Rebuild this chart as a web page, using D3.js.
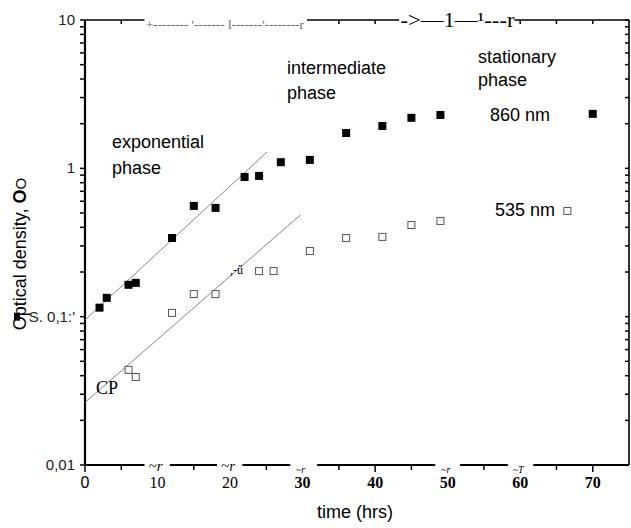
<!DOCTYPE html>
<html>
<head>
<meta charset="utf-8">
<script src="https://cdn.jsdelivr.net/npm/d3@7"></script>
<style>
  body { margin: 0; background: #fff; }
  text { font-family: "Liberation Sans", Arial, sans-serif; }
  .serif { font-family: "Liberation Serif", "Times New Roman", serif; }
</style>
</head>
<body>
<div id="graf"></div>
<script>
// 860 nm (puni kvadrati)
const t860 = [2, 3, 6, 7, 12, 15, 18, 22, 24, 27, 31, 36, 41, 45, 49, 70];
const od860 = [0.115, 0.134, 0.164, 0.169, 0.339, 0.558, 0.541, 0.875, 0.889, 1.10, 1.14, 1.73, 1.93, 2.19, 2.29, 2.33];

// 535 nm (prazni kvadrati)
const t535 = [6, 7, 12, 15, 18, 24, 26, 31, 36, 41, 45, 49, 66.5];
const od535 = [0.0438, 0.0392, 0.106, 0.142, 0.142, 0.203, 0.203, 0.277, 0.339, 0.345, 0.415, 0.442, 0.516];

// linije fita u eksponencijalnoj fazi
const fit860 = [[0, 0.095], [25.1, 1.29]];
const fit535 = [[0, 0.0264], [29.7, 0.485]];

const xTicks = [0, 10, 20, 30, 40, 50, 60, 70];
const yTicks = [0.01, 0.1, 1, 10];
const yTickLabels = ["0,01", "S. 0,1:'", "1", "10"];

const width = 631;
const height = 528;

const svg = d3.select("#graf").append("svg")
  .attr("width", width)
  .attr("height", height);

const x = d3.scaleLinear().domain([0, 75]).range([85, 629]);
const y = d3.scaleLog().domain([0.01, 10]).range([465, 20]);

const minorY = [];
[0.01, 0.1, 1].forEach(d => { for (let k = 2; k <= 9; k++) minorY.push(d * k); });
const minorX = d3.range(5, 75, 10);

// rupe u okviru (sken)
const bottomGaps = [[8.2, 11.7], [18.2, 21.7], [28.3, 32], [48.3, 51.7], [58.3, 61.8]];
const topGaps = [[8.2, 30.6], [43.3, 59.2]];

function segments(gaps) {
  const out = [];
  let start = 0;
  gaps.forEach(g => { out.push([start, g[0]]); start = g[1]; });
  out.push([start, 75]);
  return out;
}
const inGap = (t, gaps) => gaps.some(g => t > g[0] && t < g[1]);

// donja os
svg.selectAll("line.bottom")
  .data(segments(bottomGaps))
  .join("line").attr("class", "bottom")
  .attr("x1", d => x(d[0])).attr("x2", d => x(d[1]))
  .attr("y1", y(0.01)).attr("y2", y(0.01))
  .attr("stroke", "#000").attr("stroke-width", 2);

svg.selectAll("line.btick")
  .data(xTicks.concat(minorX).filter(t => !inGap(t, bottomGaps)))
  .join("line").attr("class", "btick")
  .attr("x1", d => x(d)).attr("x2", d => x(d))
  .attr("y1", y(0.01)).attr("y2", d => y(0.01) + (d % 10 === 0 ? 7 : 5))
  .attr("stroke", "#000").attr("stroke-width", 1.5);

// gornja os
svg.selectAll("line.top")
  .data(segments(topGaps))
  .join("line").attr("class", "top")
  .attr("x1", d => x(d[0])).attr("x2", d => x(d[1]))
  .attr("y1", y(10)).attr("y2", y(10))
  .attr("stroke", "#000").attr("stroke-width", 1.6);

svg.selectAll("line.ttick")
  .data(xTicks.concat(minorX).filter(t => t > 0 && !inGap(t, topGaps)))
  .join("line").attr("class", "ttick")
  .attr("x1", d => x(d)).attr("x2", d => x(d))
  .attr("y1", y(10)).attr("y2", y(10) + 4)
  .attr("stroke", "#000").attr("stroke-width", 1.5);

// lijeva i desna os
svg.append("line")
  .attr("x1", x(0)).attr("x2", x(0)).attr("y1", y(10)).attr("y2", y(0.01))
  .attr("stroke", "#000").attr("stroke-width", 2.2);
svg.append("line")
  .attr("x1", x(75)).attr("x2", x(75)).attr("y1", y(10)).attr("y2", y(0.01))
  .attr("stroke", "#000").attr("stroke-width", 1.6);

svg.selectAll("line.ltick")
  .data(yTicks.concat(minorY))
  .join("line").attr("class", "ltick")
  .attr("x1", x(0) - 5).attr("x2", x(0))
  .attr("y1", d => y(d)).attr("y2", d => y(d))
  .attr("stroke", "#000").attr("stroke-width", 1.5);

svg.selectAll("line.rtick")
  .data(yTicks.concat(minorY))
  .join("line").attr("class", "rtick")
  .attr("x1", x(75) - 4).attr("x2", x(75))
  .attr("y1", d => y(d)).attr("y2", d => y(d))
  .attr("stroke", "#000").attr("stroke-width", 1.5);

// oznake osi
svg.selectAll("text.xlab")
  .data(xTicks)
  .join("text").attr("class", d => d === 0 ? "xlab" : "xlab serif")
  .attr("x", d => x(d)).attr("y", 488)
  .attr("text-anchor", "middle")
  .style("font-size", "16px")
  .style("font-weight", d => d >= 30 ? "bold" : "normal")
  .text(d => d);

svg.selectAll("text.ylab")
  .data(yTicks)
  .join("text").attr("class", "ylab")
  .attr("x", 75).attr("y", d => y(d) + 5)
  .attr("text-anchor", "end")
  .style("font-size", "15px")
  .style("fill", "#222")
  .text((d, i) => yTickLabels[i]);

svg.append("rect")
  .attr("x", 14).attr("y", y(0.1) - 4).attr("width", 6).attr("height", 8)
  .attr("fill", "#000");

svg.append("text")
  .attr("x", 355).attr("y", 518)
  .attr("text-anchor", "middle")
  .style("font-size", "18px")
  .text("time (hrs)");

const yl = svg.append("text")
  .attr("transform", `translate(26, 254) rotate(-90)`)
  .attr("text-anchor", "middle")
  .style("font-size", "18px");
yl.append("tspan").text("Optical density, ");
yl.append("tspan").style("font-weight", "bold").text("O");
yl.append("tspan").style("font-size", "15px").text("O");

// smeće iz skena na osima
svg.append("text").attr("class", "serif")
  .attr("x", x(8.4)).attr("y", y(10) + 9)
  .attr("textLength", 158).attr("lengthAdjust", "spacingAndGlyphs")
  .style("font-size", "13px").style("fill", "#666")
  .text("+-------- '------- l-------'--------r");
svg.append("text").attr("class", "serif")
  .attr("x", x(43.5)).attr("y", y(10) + 7)
  .attr("textLength", 114).attr("lengthAdjust", "spacingAndGlyphs")
  .style("font-size", "21px")
  .text("->\u20141\u2014\u00b9---r");

const bottomJunk = [[10, "~r", 15], [20, "~r", 15], [30, "~r", 10], [50, "~r", 10], [60, "~T", 10]];
svg.selectAll("text.junk")
  .data(bottomJunk)
  .join("text").attr("class", "junk serif")
  .attr("x", d => x(d[0]) - 2).attr("y", d => y(0.01) + (d[2] > 12 ? 6 : 8))
  .attr("text-anchor", "middle")
  .style("font-size", d => d[2] + "px")
  .style("font-style", "italic")
  .text(d => d[1]);

// linije fita
const line = d3.line().x(d => x(d[0])).y(d => y(d[1]));
[fit860, fit535].forEach(f => {
  svg.append("path")
    .attr("d", line(f))
    .attr("fill", "none")
    .attr("stroke", "#777")
    .attr("stroke-width", 0.9);
});

// točke
const s = 8;
svg.selectAll("rect.p860")
  .data(t860.map((t, i) => [t, od860[i]]))
  .join("rect").attr("class", "p860")
  .attr("x", d => x(d[0]) - s / 2).attr("y", d => y(d[1]) - s / 2)
  .attr("width", s).attr("height", s)
  .attr("fill", "#000");

svg.selectAll("rect.p535")
  .data(t535.map((t, i) => [t, od535[i]]))
  .join("rect").attr("class", "p535")
  .attr("x", d => x(d[0]) - s / 2 + 0.5).attr("y", d => y(d[1]) - s / 2 + 0.5)
  .attr("width", s - 1).attr("height", s - 1)
  .attr("fill", "#fff")
  .attr("stroke", "#555")
  .attr("stroke-width", 1);

// natpisi
const notes = [
  [112, 148, "exponential"], [112, 174, "phase"],
  [287, 74, "intermediate"], [287, 99, "phase"],
  [478, 63, "stationary"], [478, 86, "phase"],
  [490, 121, "860 nm"], [495, 216, "535 nm"]
];
svg.selectAll("text.note")
  .data(notes)
  .join("text").attr("class", "note")
  .attr("x", d => d[0]).attr("y", d => d[1])
  .style("font-size", "18px")
  .text(d => d[2]);

svg.append("text").attr("class", "serif")
  .attr("x", 96).attr("y", 394)
  .style("font-size", "18px")
  .text("CP");

svg.append("text").attr("class", "serif")
  .attr("x", 230).attr("y", 274)
  .style("font-size", "12px")
  .text(",-\u0171");
</script>
</body>
</html>
